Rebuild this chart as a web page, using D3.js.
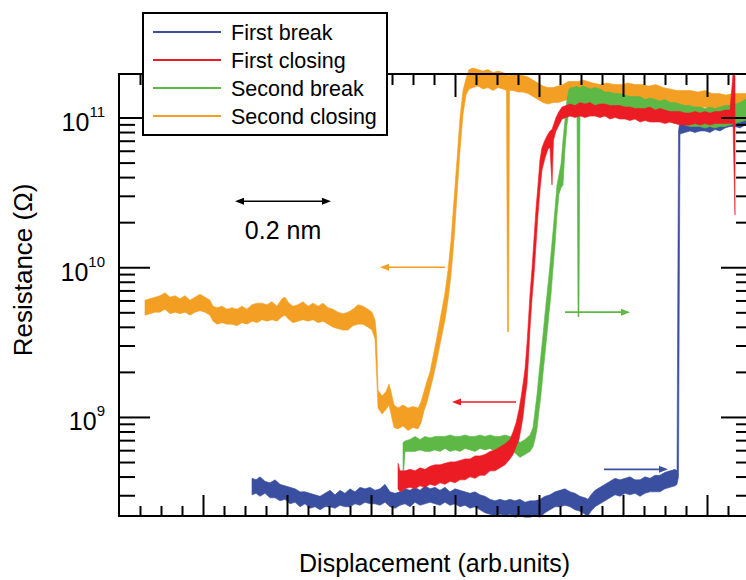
<!DOCTYPE html>
<html>
<head>
<meta charset="utf-8">
<script src="https://cdn.jsdelivr.net/npm/d3@7"></script>
<style>
body { margin: 0; background: #fff; }
svg { font-family: "Liberation Sans", Arial, Helvetica, sans-serif; }
</style>
</head>
<body>
<svg id="chart" width="746" height="580"></svg>
<script>
// legend order
var seriesNames = ["First break", "First closing", "Second break", "Second closing"];
var seriesColors = ["#3a4fa0", "#ec1c24", "#5db846", "#f29f24"];

// each point: [displacement (arb. units), log10 R lower edge, log10 R upper edge] of the noisy trace
var firstBreak = [
  [133,8.48,8.59],[137,8.49,8.58],[141,8.47,8.60],[146,8.49,8.57],[151,8.46,8.56],[156,8.46,8.58],
  [161,8.44,8.55],[166,8.45,8.54],[171,8.42,8.53],[176,8.43,8.52],[181,8.40,8.50],[186,8.42,8.50],
  [191,8.39,8.49],[196,8.40,8.48],[201,8.38,8.47],[206,8.40,8.49],[211,8.40,8.51],[216,8.39,8.48],
  [221,8.41,8.51],[226,8.40,8.49],[231,8.40,8.52],[236,8.42,8.50],[241,8.41,8.53],[246,8.43,8.52],
  [251,8.42,8.53],[256,8.42,8.51],[261,8.41,8.52],[266,8.43,8.55],[271,8.40,8.50],[276,8.39,8.49],
  [281,8.41,8.50],[286,8.42,8.52],[291,8.40,8.51],[296,8.43,8.53],[301,8.41,8.51],[306,8.42,8.54],
  [311,8.43,8.52],[316,8.42,8.53],[321,8.41,8.51],[326,8.43,8.53],[331,8.41,8.50],[336,8.42,8.52],
  [341,8.40,8.51],[346,8.41,8.50],[351,8.39,8.49],[356,8.40,8.50],[361,8.38,8.48],[366,8.36,8.47],
  [371,8.35,8.45],[376,8.34,8.44],[381,8.35,8.45],[386,8.34,8.44],[391,8.35,8.45],[396,8.33,8.44],
  [401,8.34,8.45],[406,8.33,8.43],[411,8.33,8.44],[416,8.34,8.44],[421,8.33,8.45],[426,8.36,8.47],
  [431,8.38,8.48],[436,8.40,8.50],[441,8.40,8.51],[446,8.41,8.52],[451,8.40,8.50],[456,8.38,8.49],
  [461,8.37,8.47],[466,8.35,8.46],[469,8.34,8.45],[472,8.37,8.48],[476,8.40,8.51],[481,8.42,8.53],
  [486,8.44,8.55],[491,8.46,8.57],[496,8.48,8.59],[501,8.47,8.58],[506,8.49,8.59],[511,8.48,8.60],
  [516,8.49,8.58],[521,8.47,8.58],[526,8.49,8.60],[531,8.50,8.59],[536,8.50,8.61],[541,8.50,8.61],
  [546,8.52,8.63],[551,8.53,8.64],[556,8.54,8.65],[558,8.55,8.64],[559.5,8.60,10.91],[561,10.89,10.98],
  [566,10.90,10.99],[571,10.91,10.98],[576,10.90,10.99],[581,10.91,10.98],[586,10.91,11.00],[591,10.90,10.99],
  [596,10.92,11.01],[601,10.91,11.00],[606,10.93,11.02],[611,10.94,11.02],[616,10.94,11.03],[621,10.93,11.03],
  [626,10.95,11.04],[633,10.95,11.04]
];

var firstClosing = [
  [279,8.52,8.69],[281,8.50,8.64],[286,8.52,8.64],[291,8.53,8.65],[296,8.52,8.64],[301,8.54,8.66],
  [306,8.53,8.65],[311,8.55,8.67],[316,8.54,8.68],[321,8.56,8.68],[326,8.55,8.69],[331,8.57,8.70],
  [336,8.56,8.70],[341,8.58,8.71],[346,8.58,8.72],[351,8.60,8.72],[356,8.59,8.74],[361,8.61,8.74],
  [366,8.61,8.75],[371,8.64,8.77],[376,8.64,8.78],[381,8.66,8.80],[386,8.68,8.82],[391,8.72,8.85],
  [394,8.75,8.90],[397,8.80,8.96],[400,8.85,9.05],[402,8.92,9.13],[404,9.00,9.22],[406,9.12,9.32],
  [408,9.22,9.49],[409.5,9.39,9.65],[411,9.59,9.82],[413,9.79,9.99],[415,9.95,10.19],[417,10.15,10.39],
  [419,10.35,10.55],[421,10.52,10.72],[423,10.65,10.80],[426,10.73,10.85],[429,10.79,10.89],[431,10.80,10.91],
  [433,10.55,10.92],[434.5,10.85,10.95],[437,10.91,11.00],[440,10.95,11.04],[443,10.99,11.07],[447,11.00,11.08],
  [451,11.01,11.09],[456,11.00,11.08],[461,11.01,11.10],[466,11.00,11.09],[471,11.01,11.10],[476,11.01,11.08],
  [481,11.00,11.09],[486,11.01,11.09],[491,10.99,11.08],[496,11.00,11.08],[501,10.99,11.08],[506,10.99,11.07],
  [511,10.98,11.07],[516,10.99,11.06],[521,10.97,11.06],[526,10.98,11.06],[531,10.97,11.07],[536,10.97,11.05],
  [541,10.97,11.06],[546,10.96,11.05],[551,10.97,11.04],[556,10.96,11.04],[561,10.95,11.04],[566,10.95,11.03],
  [571,10.95,11.03],[576,10.96,11.04],[581,10.95,11.03],[586,10.96,11.04],[591,10.95,11.03],[596,10.96,11.04],
  [601,10.96,11.04],[606,10.96,11.05],[611,10.96,11.05],[614,10.96,11.29],[616,10.35,11.28]
];

var secondBreak = [
  [284,8.57,8.83],[286,8.77,8.84],[291,8.77,8.85],[296,8.77,8.87],[301,8.78,8.85],[306,8.77,8.87],
  [311,8.77,8.86],[316,8.78,8.87],[321,8.77,8.87],[326,8.79,8.87],[331,8.77,8.88],[336,8.78,8.87],
  [341,8.77,8.87],[346,8.79,8.88],[351,8.78,8.87],[356,8.77,8.87],[361,8.79,8.88],[366,8.78,8.87],
  [371,8.79,8.88],[376,8.77,8.87],[381,8.78,8.87],[386,8.79,8.88],[391,8.77,8.87],[396,8.76,8.86],
  [401,8.73,8.83],[406,8.75,8.85],[411,8.77,8.88],[414,8.80,8.93],[416,8.85,9.04],[418,8.92,9.15],
  [420,9.04,9.29],[422,9.15,9.42],[424,9.29,9.55],[426,9.42,9.69],[428,9.55,9.82],[430,9.69,9.95],
  [432,9.82,10.09],[434,9.99,10.24],[436,10.15,10.39],[438,10.35,10.55],[440,10.49,10.62],[442,10.53,10.69],
  [444,10.55,10.85],[446,10.79,10.99],[448,10.95,11.12],[450,11.05,11.19],[452,11.06,11.20],[455,11.07,11.20],
  [458,11.06,11.21],[459,9.67,11.20],[460,9.67,11.20],[461,11.06,11.20],[464,11.07,11.21],[468,11.06,11.20],
  [472,11.05,11.19],[476,11.06,11.20],[481,11.04,11.19],[486,11.04,11.17],[491,11.02,11.17],[496,11.03,11.16],
  [501,11.02,11.16],[506,11.01,11.15],[511,11.02,11.14],[516,11.00,11.14],[521,11.00,11.14],[526,10.99,11.12],
  [531,11.00,11.13],[536,10.98,11.12],[541,10.98,11.11],[546,10.98,11.12],[551,10.97,11.10],[556,10.96,11.10],
  [561,10.96,11.09],[566,10.95,11.08],[571,10.94,11.08],[576,10.94,11.07],[581,10.94,11.07],[586,10.93,11.06],
  [591,10.94,11.07],[596,10.93,11.06],[601,10.94,11.07],[606,10.94,11.08],[611,10.95,11.08],[616,10.96,11.09],
  [621,10.97,11.10],[626,10.98,11.12],[633,10.99,11.13]
];

var secondClosing = [
  [26,9.68,9.78],[31,9.69,9.79],[36,9.70,9.80],[41,9.70,9.81],[46,9.72,9.83],[51,9.69,9.80],
  [56,9.70,9.81],[61,9.69,9.79],[66,9.70,9.81],[71,9.68,9.78],[76,9.70,9.80],[81,9.71,9.82],
  [86,9.70,9.80],[91,9.68,9.78],[94,9.64,9.74],[98,9.62,9.73],[103,9.63,9.74],[108,9.62,9.72],
  [113,9.62,9.73],[118,9.61,9.72],[123,9.63,9.74],[128,9.62,9.72],[133,9.64,9.75],[138,9.63,9.76],
  [143,9.65,9.76],[148,9.64,9.75],[153,9.65,9.77],[158,9.64,9.74],[163,9.67,9.79],[166,9.68,9.80],
  [170,9.65,9.76],[174,9.63,9.74],[179,9.64,9.75],[184,9.65,9.77],[189,9.64,9.74],[194,9.65,9.76],
  [199,9.63,9.74],[204,9.64,9.76],[209,9.62,9.73],[214,9.60,9.72],[219,9.59,9.70],[224,9.58,9.69],
  [229,9.58,9.70],[234,9.61,9.72],[239,9.62,9.75],[244,9.62,9.74],[249,9.60,9.72],[253,9.58,9.70],
  [256,9.52,9.65],[257.5,9.30,9.55],[259,9.06,9.18],[263,9.02,9.14],[267,9.05,9.17],[270,9.08,9.22],
  [272,9.02,9.17],[275,8.93,9.08],[279,8.92,9.06],[284,8.94,9.08],[289,8.91,9.06],[294,8.93,9.07],
  [299,8.92,9.06],[302,8.96,9.10],[305,9.04,9.17],[308,9.10,9.24],[311,9.18,9.30],[314,9.26,9.40],
  [317,9.35,9.50],[320,9.45,9.61],[323,9.55,9.72],[326,9.65,9.83],[329,9.78,9.98],[332,9.95,10.18],
  [335,10.18,10.45],[338,10.48,10.72],[341,10.78,11.00],[344,11.02,11.18],[347,11.15,11.26],[350,11.19,11.32],
  [354,11.20,11.33],[359,11.21,11.32],[364,11.19,11.31],[369,11.20,11.32],[374,11.18,11.30],[379,11.20,11.31],
  [384,11.19,11.30],[387.5,11.18,11.29],[388.5,9.57,11.28],[389.5,9.57,11.28],[390.5,11.18,11.28],[394,11.18,11.29],
  [399,11.17,11.28],[404,11.17,11.28],[409,11.16,11.27],[414,11.14,11.25],[419,11.12,11.23],[424,11.10,11.21],
  [429,11.09,11.20],[434,11.10,11.20],[439,11.10,11.21],[444,11.11,11.22],[449,11.12,11.24],[454,11.12,11.24],
  [459,11.12,11.24],[464,11.13,11.25],[469,11.12,11.24],[474,11.12,11.23],[481,11.11,11.22],[488,11.12,11.23],
  [495,11.10,11.22],[502,11.11,11.22],[509,11.12,11.23],[516,11.10,11.22],[523,11.11,11.22],[530,11.10,11.21],
  [537,11.10,11.22],[544,11.09,11.20],[551,11.08,11.19],[558,11.08,11.18],[565,11.07,11.18],[572,11.08,11.18],
  [579,11.06,11.17],[586,11.07,11.18],[593,11.05,11.16],[600,11.06,11.16],[607,11.04,11.15],[614,11.06,11.16],
  [621,11.05,11.16],[627,11.06,11.16],[633,11.06,11.16]
];

var yMajorTicks = [1e9, 1e10, 1e11];
var yMajorExponents = ["9", "10", "11"];

// direction arrows: [series index, from x, to x, log10 R]
var arrows = [
  [3, 326, 261, 10.0],
  [1, 397, 333, 9.10],
  [2, 446, 511, 9.70],
  [0, 485, 549, 8.65]
];
// length marker: [from x, to x, log10 R], label
var scaleBar = [116, 212, 10.44];
var scaleBarLabel = "0.2 nm";

var margin = {top: 74, left: 119};
var width = 633, height = 442;

var svg = d3.select("#chart");
var g = svg.append("g").attr("transform", "translate(" + margin.left + "," + margin.top + ")");

var x = d3.scaleLinear().domain([0, 633]).range([0, width]);
var y = d3.scaleLog().domain([Math.pow(10, 8.3385), Math.pow(10, 11.2907)]).range([height, 0]);

var area = d3.area()
  .x(function(d) { return x(d[0]); })
  .y0(function(d) { return y(Math.pow(10, d[1])); })
  .y1(function(d) { return y(Math.pow(10, d[2])); });

var series = [firstBreak, firstClosing, secondBreak, secondClosing];
// drawing order: blue, orange, green, red
[0, 3, 2, 1].forEach(function(i) {
  g.append("path")
    .datum(series[i])
    .attr("d", area)
    .attr("fill", seriesColors[i])
    .attr("stroke", seriesColors[i])
    .attr("stroke-width", 0.6);
});

// arrows
function arrowHead(sel, xt, yt, dir, color, len, half) {
  sel.append("path")
    .attr("d", "M" + xt + "," + yt + "L" + (xt - dir * len) + "," + (yt - half) + "L" + (xt - dir * len) + "," + (yt + half) + "Z")
    .attr("fill", color);
}
arrows.forEach(function(a) {
  var c = seriesColors[a[0]];
  var x0 = x(a[1]), x1 = x(a[2]), yy = y(Math.pow(10, a[3]));
  var dir = x1 > x0 ? 1 : -1;
  g.append("line")
    .attr("x1", x0).attr("x2", x1 - dir * 6)
    .attr("y1", yy).attr("y2", yy)
    .attr("stroke", c).attr("stroke-width", 1.6);
  arrowHead(g, x1, yy, dir, c, 9, 3.5);
});

var sb0 = x(scaleBar[0]), sb1 = x(scaleBar[1]), sby = y(Math.pow(10, scaleBar[2]));
g.append("line")
  .attr("x1", sb0 + 6).attr("x2", sb1 - 6)
  .attr("y1", sby).attr("y2", sby)
  .attr("stroke", "#000").attr("stroke-width", 1.5);
arrowHead(g, sb1, sby, 1, "#000", 9, 3.5);
arrowHead(g, sb0, sby, -1, "#000", 9, 3.5);
g.append("text")
  .attr("x", (sb0 + sb1) / 2)
  .attr("y", sby + 38)
  .attr("text-anchor", "middle")
  .attr("font-size", 25)
  .text(scaleBarLabel);

// axes
var yMinor = [];
[8, 9, 10, 11].forEach(function(e) {
  for (var m = 2; m <= 9; m++) {
    var v = m * Math.pow(10, e);
    if (v > y.domain()[0] && v < y.domain()[1]) yMinor.push(v);
  }
});
var xAll = d3.range(21, 631, 21);
var xMajor = xAll.filter(function(v) { return v % 84 === 0; });
var xMinor = xAll.filter(function(v) { return v % 84 !== 0; });

function styleAxis(sel) {
  sel.select(".domain").remove();
  sel.selectAll("line").attr("stroke", "#000").attr("stroke-width", 2);
}

g.append("g").call(d3.axisLeft(y).tickValues(yMinor).tickSize(-16).tickFormat("")).call(styleAxis);
var yAx = g.append("g").call(d3.axisLeft(y).tickValues(yMajorTicks).tickSize(-31).tickFormat("")).call(styleAxis);
g.append("g").attr("transform", "translate(" + width + ",0)")
  .call(d3.axisRight(y).tickValues(yMinor).tickSize(-16).tickFormat("")).call(styleAxis);
g.append("g").attr("transform", "translate(" + width + ",0)")
  .call(d3.axisRight(y).tickValues(yMajorTicks).tickSize(-31).tickFormat("")).call(styleAxis);

g.append("g").attr("transform", "translate(0," + height + ")")
  .call(d3.axisBottom(x).tickValues(xMinor).tickSize(-10).tickFormat("")).call(styleAxis);
g.append("g").attr("transform", "translate(0," + height + ")")
  .call(d3.axisBottom(x).tickValues(xMajor).tickSize(-21).tickFormat("")).call(styleAxis);
g.append("g")
  .call(d3.axisTop(x).tickValues(xMinor).tickSize(-11).tickFormat("")).call(styleAxis);
g.append("g")
  .call(d3.axisTop(x).tickValues(xMajor).tickSize(-23).tickFormat("")).call(styleAxis);

g.append("rect")
  .attr("width", width).attr("height", height)
  .attr("fill", "none").attr("stroke", "#000").attr("stroke-width", 2);

yAx.selectAll(".tick text").remove();
yAx.selectAll(".tick").each(function(d, i) {
  var t = d3.select(this).append("text")
    .attr("x", -14).attr("y", 13)
    .attr("text-anchor", "end")
    .attr("fill", "#000");
  t.append("tspan").attr("font-size", 25).text("10");
  t.append("tspan").attr("font-size", 15).attr("dy", -14).text(yMajorExponents[i]);
});

svg.append("text")
  .attr("x", margin.left + width / 2 - 1)
  .attr("y", 572)
  .attr("text-anchor", "middle")
  .attr("font-size", 25)
  .text("Displacement (arb.units)");

svg.append("text")
  .attr("transform", "translate(32,270) rotate(-90)")
  .attr("text-anchor", "middle")
  .attr("font-size", 26)
  .text("Resistance (\u03A9)");

// legend
var legend = svg.append("g").attr("transform", "translate(143,13)");
legend.append("rect")
  .attr("width", 244).attr("height", 122)
  .attr("fill", "#fff").attr("stroke", "#000").attr("stroke-width", 2);
seriesNames.forEach(function(name, i) {
  var row = legend.append("g").attr("transform", "translate(0," + (19 + i * 28) + ")");
  row.append("line")
    .attr("x1", 10).attr("x2", 78)
    .attr("stroke", seriesColors[i]).attr("stroke-width", 2);
  row.append("text")
    .attr("x", 88).attr("y", 8)
    .attr("font-size", 21.5)
    .text(name);
});
</script>
</body>
</html>
